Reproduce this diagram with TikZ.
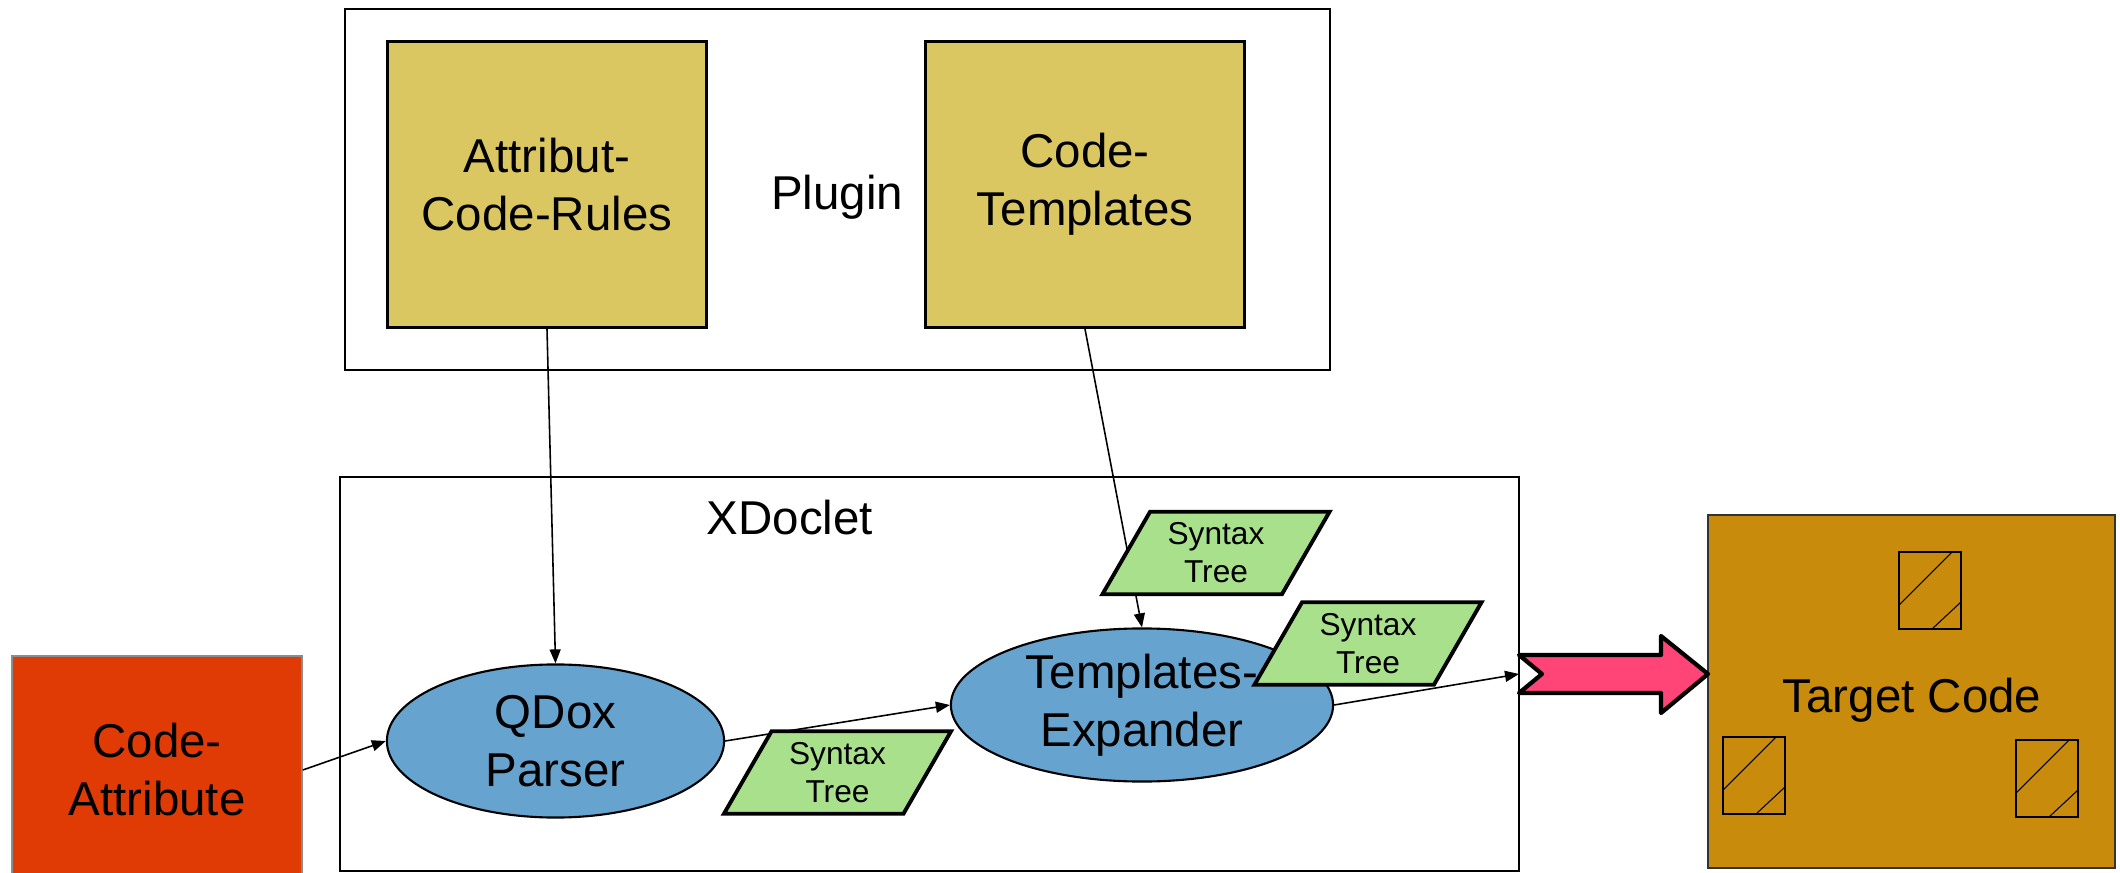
\documentclass[tikz,border=0pt]{standalone}
\usepackage{fontspec}
\setmainfont{Liberation Sans}
\usetikzlibrary{shapes.geometric,arrows.meta}

\definecolor{rulegold}{HTML}{DBC762}
\definecolor{attrred}{HTML}{E03B05}
\definecolor{parserblue}{HTML}{66A4CF}
\definecolor{treegreen}{HTML}{A8E08C}
\definecolor{fatpink}{HTML}{FF4477}
\definecolor{targetgold}{HTML}{C88B0B}

\begin{document}
\begin{tikzpicture}[
        % 1 единица = 1 пиксель исходной картинки, ось y вниз
        x=0.01cm, y=-0.01cm,
        % Шрифты
        big text/.style={font=\fontsize{13.5}{16.5}\selectfont, align=center},
        small text/.style={font=\fontsize{9}{10.8}\selectfont, align=center},
        % Рамки Plugin и XDoclet
        outer box/.style={draw, line width=0.6pt, inner sep=0pt},
        % Жёлтые блоки плагина
        plugin block/.style={
            draw, fill=rulegold, line width=0.8pt,
            minimum width=3.19cm, minimum height=2.86cm,
            big text
        },
        % Эллипсы обработки (текст чуть ниже центра)
        process/.style={
            ellipse, draw, fill=parserblue, line width=0.6pt,
            minimum height=1.53cm, inner sep=0pt,
            big text, execute at begin node={\rule{0pt}{14pt}}
        },
        % Параллелограммы "Syntax Tree"
        syntax tree/.style={
            trapezium, trapezium left angle=60, trapezium right angle=120,
            draw, fill=treegreen, line width=1.1pt,
            minimum width=2.27cm, minimum height=0.75cm, inner sep=0pt,
            small text, execute at begin node={\rule{0pt}{8pt}}
        },
        % Тонкие стрелки
        flow/.style={-{Triangle[length=0.14cm, width=0.11cm]}, line width=0.45pt},
        % Толстая розовая стрелка
        fat arrow/.style={draw, fill=fatpink, line width=1.2pt, line join=round},
        % Листы в целевом коде
        sheet/.style={draw, line width=0.6pt},
        hatch/.style={draw, line width=0.3pt}
    ]

        \useasboundingbox (0,0) rectangle (2120,873);

        % Plugin
        \node[outer box, minimum width=9.85cm, minimum height=3.61cm] (plugin) at (837.5,189.5) {};
        \node[big text] (pluginlabel) at (837,197) {Plugin};
        \node[plugin block] (rules) at (547,184.5) {Attribut-\\Code-Rules};
        \node[plugin block] (templates) at (1085,184.5) {Code-\\Templates};

        % XDoclet
        \node[outer box, minimum width=11.79cm, minimum height=3.94cm] (xdoclet) at (929.5,674) {};
        \node[big text] (xdocletlabel) at (790,518) {XDoclet};
        \node[process, minimum width=3.37cm] (qdox) at (555.5,741) {QDox\\Parser};
        \node[process, minimum width=3.82cm] (expander) at (1142,705) {Templates-\\Expander};

        % Вход и выход
        \node[draw=black!45, fill=attrred, line width=0.4pt, minimum width=2.9cm, minimum height=2.28cm, big text] (attr) at (157,770) {Code-\\Attribute};
        \node[draw=black!80, fill=targetgold, line width=0.6pt, minimum width=4.07cm, minimum height=3.53cm] (target) at (1911.5,691.5) {};
        \node[big text] (targetlabel) at (1912,700) {Target Code};
        \coordinate (fattail) at (1519,674);

        % Стрелки
        \draw[flow] (rules.south) -- (qdox.north);
        \draw[flow] (templates.south) -- (expander.north);
        \draw[flow] (attr.east) -- (qdox.west);
        \draw[flow] (qdox.east) -- (expander.west);
        \draw[flow] (expander.east) -- (fattail);

        % Syntax Trees (поверх стрелок)
        \node[syntax tree] (tree1) at (837.5,772.5) {Syntax\\Tree};
        \node[syntax tree] (tree2) at (1216,553) {Syntax\\Tree};
        \node[syntax tree] (tree3) at (1368,643.5) {Syntax\\Tree};

        % Розовая стрелка к Target Code
        \draw[fat arrow] (1542,674) -- (1519,655) -- (1661,655) -- (1661,636) -- (1708,674)
            -- (1661,713) -- (1661,693) -- (1519,693) -- cycle;

        % Листы кода
        \foreach \px/\py in {1899/629, 1723/814, 2016/817}{
            \draw[sheet] (\px,\py) rectangle ++(62,-77);
            \draw[hatch] (\px,\py-24) -- ++(53,-53);
            \draw[hatch] (\px+33,\py) -- ++(29,-27);
        }

    \end{tikzpicture}
\end{document}
